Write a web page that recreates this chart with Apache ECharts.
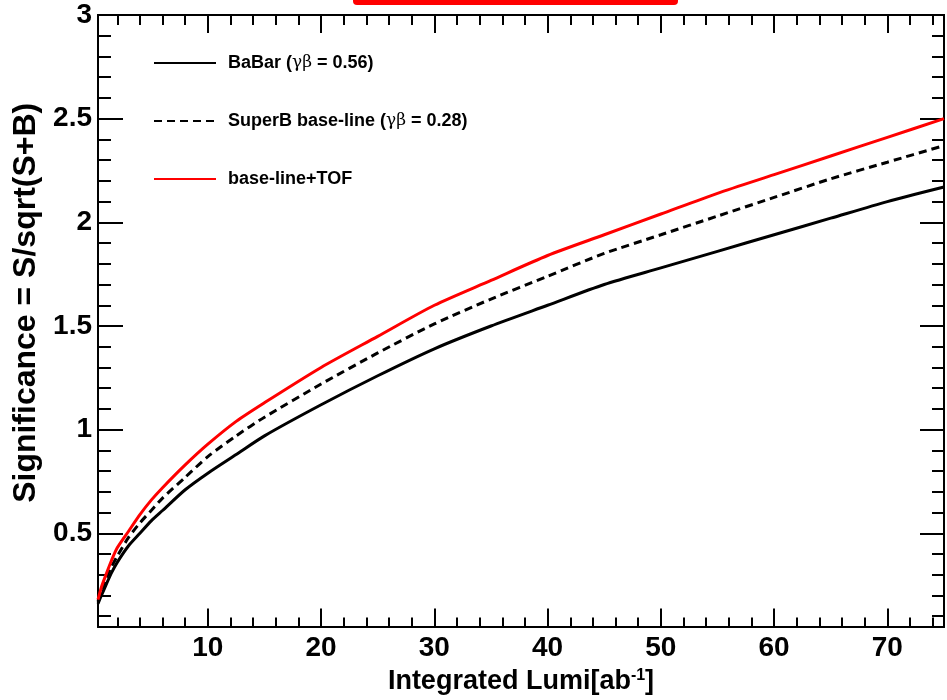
<!DOCTYPE html>
<html>
<head>
<meta charset="utf-8">
<script src="https://cdn.jsdelivr.net/npm/echarts@6/dist/echarts.min.js"></script>
<style>
  html, body { margin: 0; padding: 0; background: #fff; }
  #view { width: 947px; height: 700px; }
</style>
</head>
<body>
<div id="view"></div>
<script>
var myChart = echarts.init(document.getElementById('view'));

// integrated luminosity [ab^-1]
var lumi = [0.3, 0.6, 1, 1.5, 2, 3, 4, 5, 6, 8, 10, 12.5, 15, 20, 25, 30, 35, 40, 45, 50, 55, 60, 65, 70, 75];
// significance
var babar  = [0.16, 0.20, 0.25, 0.31, 0.36, 0.44, 0.50, 0.56, 0.61, 0.71, 0.79, 0.88, 0.97, 1.12, 1.26, 1.39, 1.50, 1.60, 1.70, 1.78, 1.86, 1.94, 2.02, 2.10, 2.17];
var superb = [0.17, 0.22, 0.28, 0.34, 0.39, 0.48, 0.55, 0.61, 0.67, 0.77, 0.87, 0.97, 1.06, 1.22, 1.37, 1.51, 1.63, 1.74, 1.85, 1.94, 2.03, 2.12, 2.21, 2.29, 2.37];
var tof    = [0.18, 0.24, 0.30, 0.37, 0.43, 0.51, 0.59, 0.66, 0.72, 0.83, 0.93, 1.04, 1.13, 1.30, 1.45, 1.60, 1.72, 1.84, 1.94, 2.04, 2.14, 2.23, 2.32, 2.41, 2.50];

var seriesNames = ['BaBar', 'SuperB', 'TOF'];
var legendText = {
    'BaBar': '{t|BaBar (}{g|γβ}{t| = 0.56)}',
    'SuperB': '{t|SuperB base-line (}{g|γβ}{t| = 0.28)}',
    'TOF': '{t|base-line+TOF}'
};

var xMajor = [10, 20, 30, 40, 50, 60, 70];
var xMinor = [2, 4, 6, 8, 12, 14, 16, 18, 22, 24, 26, 28, 32, 34, 36, 38, 42, 44, 46, 48,
              52, 54, 56, 58, 62, 64, 66, 68, 72, 74];
var yMajor = [0.5, 1, 1.5, 2, 2.5, 3];
var yMinor = [0.1, 0.2, 0.3, 0.4, 0.6, 0.7, 0.8, 0.9, 1.1, 1.2, 1.3, 1.4, 1.6, 1.7, 1.8, 1.9,
              2.1, 2.2, 2.3, 2.4, 2.6, 2.7, 2.8, 2.9];

var xMin = 0.3, xMax = 75, yMin = 0.05, yMax = 3;
var font = 'Liberation Sans';

function pairs(ys) {
    var out = [];
    for (var i = 0; i < lumi.length; i++) out.push([lumi[i], ys[i]]);
    return out;
}

function xAxisDef(pos, ticks, len, labels) {
    return {
        type: 'value', position: pos, min: xMin, max: xMax,
        axisLine: { show: true, lineStyle: { color: '#000', width: 2 } },
        axisTick: { show: true, inside: true, length: len, customValues: ticks,
                    lineStyle: { color: '#000', width: 2 } },
        axisLabel: labels ? {
            show: true, customValues: xMajor, margin: 8,
            color: '#000', fontFamily: font, fontWeight: 'bold', fontSize: 28
        } : { show: false },
        splitLine: { show: false }
    };
}

function yAxisDef(pos, ticks, len, labels) {
    return {
        type: 'value', position: pos, min: yMin, max: yMax,
        axisLine: { show: true, lineStyle: { color: '#000', width: 2 } },
        axisTick: { show: true, inside: true, length: len, customValues: ticks,
                    lineStyle: { color: '#000', width: 2 } },
        axisLabel: labels ? {
            show: true, customValues: yMajor, margin: 6,
            color: '#000', fontFamily: font, fontWeight: 'bold', fontSize: 28
        } : { show: false },
        splitLine: { show: false }
    };
}

var xAxes = [
    xAxisDef('bottom', xMajor, 18, true),
    xAxisDef('bottom', xMinor, 9, false),
    xAxisDef('top', xMajor, 18, false),
    xAxisDef('top', xMinor, 10, false)
];
xAxes[0].name = '{a|Integrated Lumi[ab}{s|-1}{a|]}';
xAxes[0].nameLocation = 'middle';
xAxes[0].nameGap = 34;
xAxes[0].nameTextStyle = {
    rich: {
        a: { fontFamily: font, fontWeight: 'bold', fontSize: 27, color: '#000' },
        s: { fontFamily: font, fontWeight: 'bold', fontSize: 16, color: '#000',
             verticalAlign: 'top', padding: [0, 0, 12, 0] }
    }
};

var yAxes = [
    yAxisDef('left', yMajor, 25, true),
    yAxisDef('left', yMinor, 13, false),
    yAxisDef('right', yMajor, 24, false),
    yAxisDef('right', yMinor, 12, false)
];
yAxes[0].name = 'Significance = S/sqrt(S+B)';
yAxes[0].nameLocation = 'middle';
yAxes[0].nameGap = 49;
yAxes[0].nameTextStyle = {
    fontFamily: font, fontWeight: 'bold', fontSize: 32, color: '#000',
    padding: [0, 0, 0, 36]
};

var option = {
    animation: false,
    backgroundColor: '#fff',
    grid: { left: 98, right: 3, top: 15, bottom: 69, containLabel: false },
    legend: {
        orient: 'vertical',
        left: 153, top: 54, padding: 0,
        itemWidth: 62, itemHeight: 14, itemGap: 40,
        data: seriesNames,
        itemStyle: { opacity: 0 },
        formatter: function (name) { return legendText[name]; },
        textStyle: {
            padding: [0, 0, 0, 7],
            rich: {
                t: { fontFamily: font, fontWeight: 'bold', fontSize: 18, color: '#000' },
                g: { fontFamily: 'DejaVu Serif', fontSize: 17, color: '#000' }
            }
        }
    },
    xAxis: xAxes,
    yAxis: yAxes,
    graphic: [{
        type: 'rect', left: 353, top: -10,
        shape: { width: 325, height: 15, r: 4 },
        style: { fill: '#ff0000' }
    }],
    series: [
        { name: 'BaBar', type: 'line', data: pairs(babar), symbol: 'none', smooth: 0.25,
          lineStyle: { color: '#000', width: 3 }, itemStyle: { color: '#000' } },
        { name: 'SuperB', type: 'line', data: pairs(superb), symbol: 'none', smooth: 0.25,
          lineStyle: { color: '#000', width: 3, type: [8, 5] }, itemStyle: { color: '#000' } },
        { name: 'TOF', type: 'line', data: pairs(tof), symbol: 'none', smooth: 0.25,
          lineStyle: { color: '#ff0000', width: 3 }, itemStyle: { color: '#ff0000' } }
    ]
};

myChart.setOption(option);
</script>
</body>
</html>
